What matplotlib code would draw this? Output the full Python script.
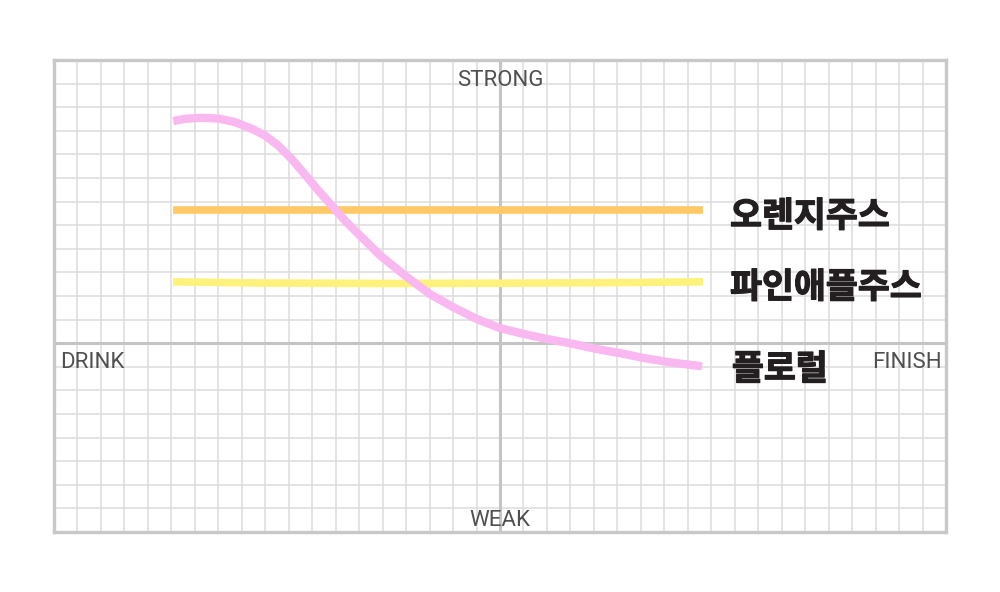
import matplotlib
matplotlib.use("Agg")
import matplotlib.pyplot as plt
import matplotlib.patheffects as pe

# ---- data ----
orange_x = [-13.93, 8.65]
orange_y = [5.66, 5.66]
yellow_x = [-13.93, -10.0, -5.0, 0.0, 5.0, 8.65]
yellow_y = [2.60, 2.55, 2.53, 2.54, 2.57, 2.60]
pink_x = [-13.92, -13.42, -12.71, -12.00, -11.29, -10.58, -10.01, -9.45, -8.88, -8.31,
          -7.74, -7.17, -6.60, -5.89, -5.11, -3.96, -2.98, -2.00, -0.98, 0.0, 0.98,
          2.00, 2.98, 4.13, 5.11, 6.09, 7.24, 8.61]
pink_y = [9.41, 9.51, 9.55, 9.52, 9.37, 9.09, 8.80, 8.38, 7.81, 7.15,
          6.47, 5.84, 5.19, 4.49, 3.72, 2.80, 2.08, 1.53, 1.02, 0.64, 0.40,
          0.18, 0.0, -0.25, -0.42, -0.62, -0.81, -0.98]
series_labels = ["오렌지주스", "파인애플주스", "플로럴"]
label_x = [9.8, 9.8, 9.88]
label_y = [5.38, 2.37, -1.10]
top_label, bottom_label, left_label, right_label = "STRONG", "WEAK", "DRINK", "FINISH"

fig = plt.figure(figsize=(10, 5.92), dpi=100)
ax = fig.add_axes([0.054, 60 / 592, 0.892, 472 / 592])
ax.set_xlim(-19, 19)
ax.set_ylim(-8, 12)

# grid
for gx in range(-18, 19):
    ax.axvline(gx, color="#dcdcdc", lw=1.1, zorder=0)
for gy in range(-7, 12):
    ax.axhline(gy, color="#dcdcdc", lw=1.1, zorder=0)
# main axes
ax.axvline(0, color="#c4c4c4", lw=2.2, zorder=1)
ax.axhline(0, color="#c4c4c4", lw=2.2, zorder=1)

for s in ax.spines.values():
    s.set_color("#c8c8c8")
    s.set_linewidth(2.4)
ax.set_xticks([])
ax.set_yticks([])

ax.plot(orange_x, orange_y, color="#ffc966", lw=5.5, solid_capstyle="butt", zorder=3)
ax.plot(yellow_x, yellow_y, color="#fff27c", lw=5.5, solid_capstyle="butt", zorder=3)
ax.plot(pink_x, pink_y, color="#f9b8f0", lw=6.0, solid_capstyle="butt",
        solid_joinstyle="round", zorder=4)

kfont = ["Noto Sans CJK KR", "DejaVu Sans"]
for t, x, y in zip(series_labels, label_x, label_y):
    ax.text(x, y, t, family=kfont, fontweight="bold", fontsize=25,
            color="#231f20", ha="left", va="center", zorder=5,
            path_effects=[pe.withStroke(linewidth=0.9, foreground="#231f20")])

efont = ["Roboto", "DejaVu Sans"]
gcol = "#505050"
fs = 16
ax.text(0, 10.91, top_label, family=efont, fontsize=fs, color=gcol,
        ha="center", va="baseline", zorder=5)
ax.text(0, -7.73, bottom_label, family=efont, fontsize=fs, color=gcol,
        ha="center", va="baseline", zorder=5)
ax.text(-18.75, -1.06, left_label, family=efont, fontsize=fs, color=gcol,
        ha="left", va="baseline", zorder=5)
ax.text(18.8, -1.06, right_label, family=efont, fontsize=fs, color=gcol,
        ha="right", va="baseline", zorder=5)

fig.savefig("out.png", dpi=100, facecolor="white")
